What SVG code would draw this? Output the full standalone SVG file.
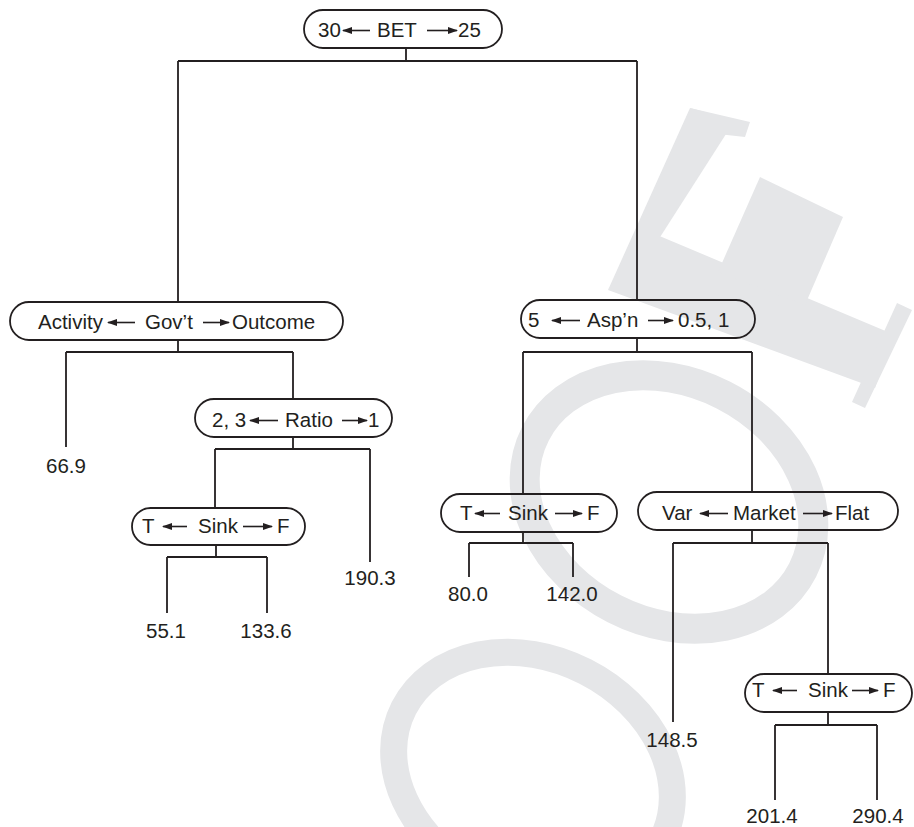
<svg xmlns="http://www.w3.org/2000/svg" width="914" height="827" viewBox="0 0 914 827">
<style>
.pill{fill:none;stroke:#231f20;stroke-width:1.8}
.edge{fill:none;stroke:#231f20;stroke-width:1.8}
.arr{stroke:#231f20;stroke-width:1.6;marker-end:url(#ah)}
text{font-family:"Liberation Sans",Arial,sans-serif;font-size:20.5px;fill:#231f20}
.c{text-anchor:middle}
.wm{fill:none;stroke:#e5e6e8}
.wmf{fill:#e5e6e8}
</style>
<defs>
<marker id="ah" markerUnits="userSpaceOnUse" markerWidth="10" markerHeight="7" refX="9" refY="3.5" orient="auto">
<path d="M0,0 L10,3.5 L0,7 z" fill="#231f20"/>
</marker>
</defs>
<rect width="914" height="827" fill="#fff"/>
<g id="watermark">
<ellipse class="wm" cx="669" cy="502" rx="150" ry="120" transform="rotate(27 669 502)" stroke-width="30"/>
<ellipse class="wm" cx="533" cy="774" rx="145" ry="115" transform="rotate(27 533 774)" stroke-width="27"/>
<polygon class="wmf" points="608,290 650,232 895,335 875,388"/>
<polygon class="wmf" points="608,290 690,108 735,120 655,245"/>
<polygon class="wmf" points="690,108 750,122 745,137 700,132"/>
<polygon class="wmf" points="718,272 760,177 843,217 805,305"/>
<polygon class="wmf" points="897,303 912,310 865,408 852,402"/>
</g>
<g id="connectors">
<path class="edge" d="M406,48 V61 M178,61 H637 M178,61 V302 M637,61 V300"/>
<path class="edge" d="M178,340 V352 M66,352 H293 M66,352 V447 M293,352 V399"/>
<path class="edge" d="M293,437 V449 M215,449 H370 M215,449 V508 M370,449 V562"/>
<path class="edge" d="M216,545 V557 M167,557 H267 M167,557 V613 M267,557 V613"/>
<path class="edge" d="M637,338 V352 M523,352 H752 M523,352 V494 M752,352 V492"/>
<path class="edge" d="M523,532 V543 M469,543 H573 M469,543 V577 M573,543 V577"/>
<path class="edge" d="M752,530 V543 M673,543 H828 M673,543 V722 M828,543 V674"/>
<path class="edge" d="M828,712 V725 M775,725 H877 M775,725 V800 M877,725 V800"/>
</g>
<g id="n-bet">
<rect class="pill" x="304" y="10" width="198" height="38" rx="19"/>
<text x="318" y="37">30</text>
<line class="arr" x1="370" y1="30.5" x2="343" y2="30.5"/>
<text x="377" y="37">BET</text>
<line class="arr" x1="427" y1="30.5" x2="457" y2="30.5"/>
<text x="458" y="37">25</text>
</g>
<g id="n-govt">
<rect class="pill" x="10" y="302" width="333" height="38" rx="19"/>
<text x="38" y="329">Activity</text>
<line class="arr" x1="135" y1="322.5" x2="108" y2="322.5"/>
<text x="145" y="329">Gov’t</text>
<line class="arr" x1="203" y1="322.5" x2="229" y2="322.5"/>
<text x="232" y="329">Outcome</text>
</g>
<g id="n-ratio">
<rect class="pill" x="195" y="399" width="197" height="38" rx="19"/>
<text x="212" y="427">2, 3</text>
<line class="arr" x1="278" y1="420.5" x2="250" y2="420.5"/>
<text x="285" y="427">Ratio</text>
<line class="arr" x1="342" y1="420.5" x2="367" y2="420.5"/>
<text x="368" y="427">1</text>
</g>
<g id="n-sink1">
<rect class="pill" x="132" y="508" width="173" height="37" rx="18.5"/>
<text x="142" y="533">T</text>
<line class="arr" x1="187" y1="526.5" x2="163" y2="526.5"/>
<text x="198" y="533">Sink</text>
<line class="arr" x1="243" y1="526.5" x2="272" y2="526.5"/>
<text x="277" y="533">F</text>
</g>
<g id="n-aspn">
<rect class="pill" x="521" y="300" width="234" height="38" rx="19"/>
<text x="528" y="327">5</text>
<line class="arr" x1="580" y1="320.5" x2="552" y2="320.5"/>
<text x="587" y="327">Asp’n</text>
<line class="arr" x1="648" y1="320.5" x2="673" y2="320.5"/>
<text x="678" y="327">0.5, 1</text>
</g>
<g id="n-sink2">
<rect class="pill" x="441" y="494" width="176" height="38" rx="19"/>
<text x="460" y="520">T</text>
<line class="arr" x1="500" y1="513.5" x2="475" y2="513.5"/>
<text x="508" y="520">Sink</text>
<line class="arr" x1="555" y1="513.5" x2="582" y2="513.5"/>
<text x="587" y="520">F</text>
</g>
<g id="n-market">
<rect class="pill" x="638" y="492" width="260" height="38" rx="19"/>
<text x="662" y="520">Var</text>
<line class="arr" x1="728" y1="513.5" x2="700" y2="513.5"/>
<text x="733" y="520">Market</text>
<line class="arr" x1="803" y1="513.5" x2="832" y2="513.5"/>
<text x="835" y="520">Flat</text>
</g>
<g id="n-sink3">
<rect class="pill" x="745" y="674" width="167" height="38" rx="19"/>
<text x="752" y="697">T</text>
<line class="arr" x1="797" y1="690.5" x2="773" y2="690.5"/>
<text x="808" y="697">Sink</text>
<line class="arr" x1="852" y1="690.5" x2="878" y2="690.5"/>
<text x="883" y="697">F</text>
</g>
<g id="leaves">
<text class="c" x="66" y="473">66.9</text>
<text class="c" x="370" y="585">190.3</text>
<text class="c" x="166" y="638">55.1</text>
<text class="c" x="266" y="638">133.6</text>
<text class="c" x="468" y="601">80.0</text>
<text class="c" x="572" y="601">142.0</text>
<text class="c" x="672" y="747">148.5</text>
<text class="c" x="772" y="823">201.4</text>
<text class="c" x="878" y="823">290.4</text>
</g>
</svg>
